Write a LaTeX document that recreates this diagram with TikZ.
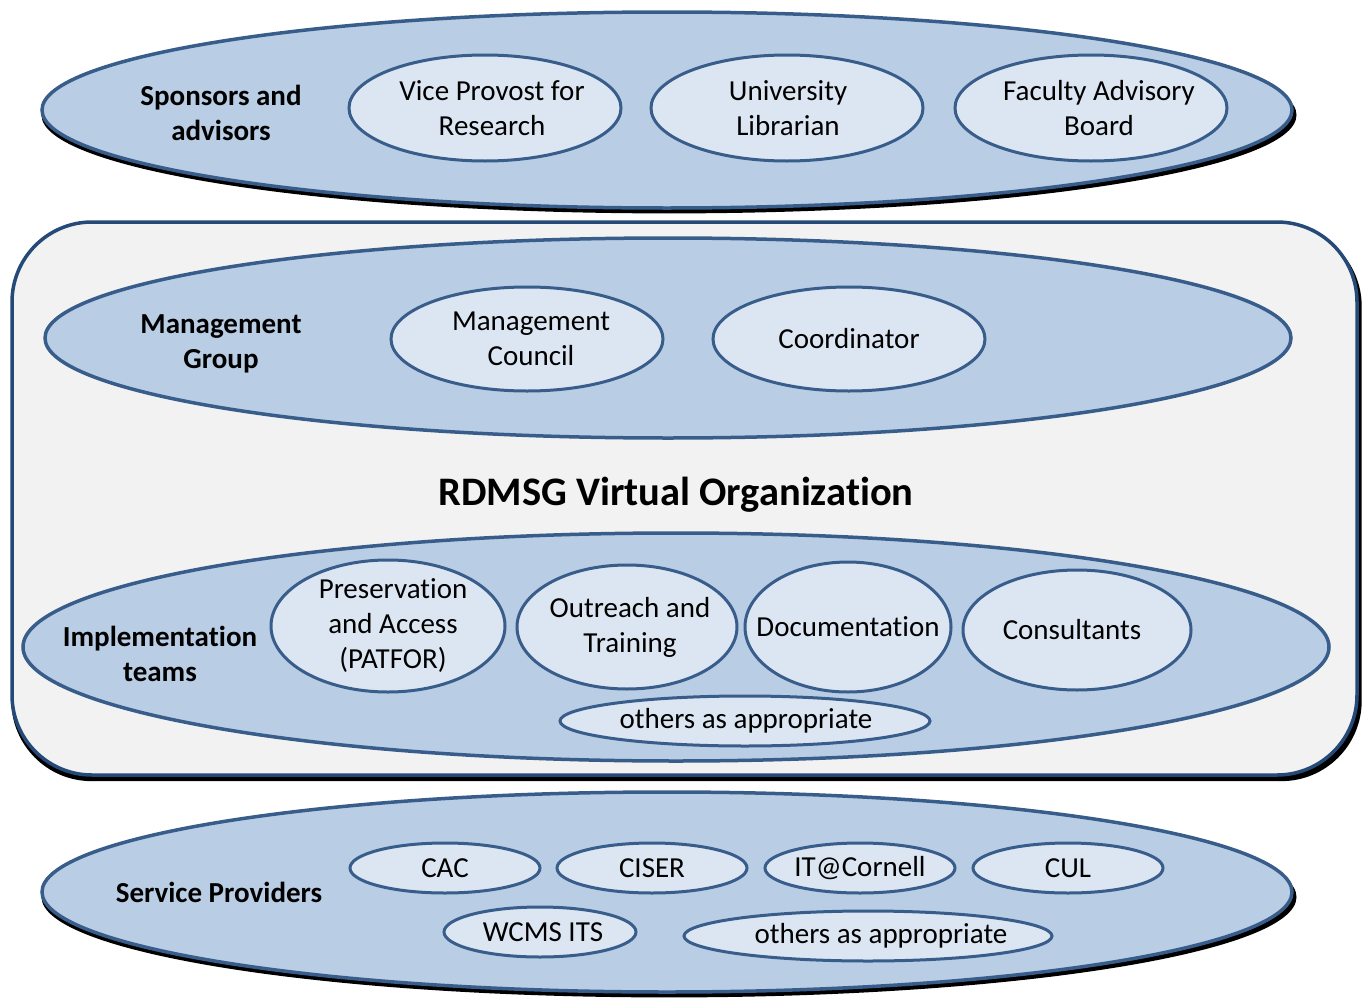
\documentclass[tikz,border=0pt]{standalone}
\usepackage{fontspec}
\setmainfont{Carlito}[Ligatures=NoCommon]
\usetikzlibrary{shapes.geometric,shadows}
\definecolor{outerfill}{HTML}{B9CDE5}
\definecolor{innerfill}{HTML}{DCE6F2}
\definecolor{edge}{HTML}{385D8A}
\definecolor{rectfill}{HTML}{F2F2F2}
\definecolor{rectedge}{HTML}{254A78}
\tikzset{
  bigell/.style={ellipse, draw=edge, fill=outerfill, line width=3.5pt, inner sep=0pt},
  shadowed/.style={drop shadow={shadow xshift=2pt, shadow yshift=-5pt, opacity=1, fill=black, shadow scale=1.004}},
  smallell/.style={ellipse, draw=edge, fill=innerfill, line width=3pt, inner sep=0pt},
  txt/.style={align=center, inner sep=0pt, font=\fontsize{29}{35}\selectfont},
  lbl/.style 2 args={label={[txt, xshift=#1pt]center:#2}},
  grouplabel/.style={align=center, font=\fontsize{29}{35}\selectfont\bfseries},
}
\begin{document}
\begin{tikzpicture}[x=1pt,y=-1pt]
\useasboundingbox (0,0) rectangle (1369,1001);
% top ellipse
\node[bigell, shadowed, minimum width=1250pt, minimum height=196pt] (top) at (667,110) {};
\node[grouplabel] (toplab) at (221,113) {Sponsors and\\advisors};
\node[smallell, minimum width=272pt, minimum height=106pt, lbl={7}{Vice Provost for\\Research}] (vpr) at (485,108) {};
\node[smallell, minimum width=272pt, minimum height=106pt, lbl={1}{University\\Librarian}] (ul) at (787,108) {};
\node[smallell, minimum width=272pt, minimum height=106pt, lbl={8}{Faculty Advisory\\Board}] (fab) at (1091,108) {};
% rounded rectangle
\node[rectangle, rounded corners=80pt, draw=rectedge, fill=rectfill, line width=3.5pt, shadowed,
      minimum width=1345pt, minimum height=553pt, inner sep=0pt] (vo) at (684.5,498.5) {};
% management group
\node[bigell, minimum width=1246pt, minimum height=200pt] (mg) at (668,338) {};
\node[grouplabel] (mglab) at (221,344) {Management\\Group};
\node[smallell, minimum width=272pt, minimum height=104pt, lbl={4}{Management\\Council}] (mc) at (527,339) {};
\node[smallell, minimum width=272pt, minimum height=104pt, lbl={0}{Coordinator}] (coord) at (849,339) {};
\node[font=\fontsize{40.5}{46}\selectfont\bfseries] (title) at (676,495) {RDMSG Virtual Organization};
% implementation teams
\node[bigell, minimum width=1306pt, minimum height=228pt] (it) at (676,647) {};
\node[grouplabel] (itlab) at (160,654) {Implementation\\teams};
\node[smallell, minimum width=234pt, minimum height=132pt, lbl={5}{Preservation\\and Access\\(PATFOR)}] (pa) at (388,626) {};
\node[smallell, minimum width=220pt, minimum height=124pt, lbl={3}{Outreach and\\Training}] (ot) at (627,627) {};
\node[smallell, minimum width=206pt, minimum height=130pt, lbl={0}{Documentation}] (doc) at (848,627) {};
\node[smallell, minimum width=228pt, minimum height=120pt, lbl={-5}{Consultants}] (cons) at (1077,630) {};
\node[smallell, minimum width=370pt, minimum height=50pt, lbl={1}{others as appropriate}] (oth1) at (745,721) {};
% service providers
\node[bigell, shadowed, minimum width=1250pt, minimum height=200pt] (sp) at (667,892) {};
\node[grouplabel] (splab) at (219,892) {Service Providers};
\node[smallell, minimum width=190pt, minimum height=50pt, lbl={0}{CAC}] (cac) at (445,868) {};
\node[smallell, minimum width=190pt, minimum height=50pt, lbl={0}{CISER}] (ciser) at (652,868) {};
\node[smallell, minimum width=190pt, minimum height=50pt, lbl={0}{IT@Cornell}] (itc) at (860,868) {};
\node[smallell, minimum width=190pt, minimum height=50pt, lbl={0}{CUL}] (cul) at (1068,868) {};
\node[smallell, minimum width=192pt, minimum height=50pt, lbl={3}{WCMS ITS}] (wcms) at (540,932) {};
\node[smallell, minimum width=368pt, minimum height=50pt, lbl={13}{others as appropriate}] (oth2) at (868,936) {};
\end{tikzpicture}
\end{document}
